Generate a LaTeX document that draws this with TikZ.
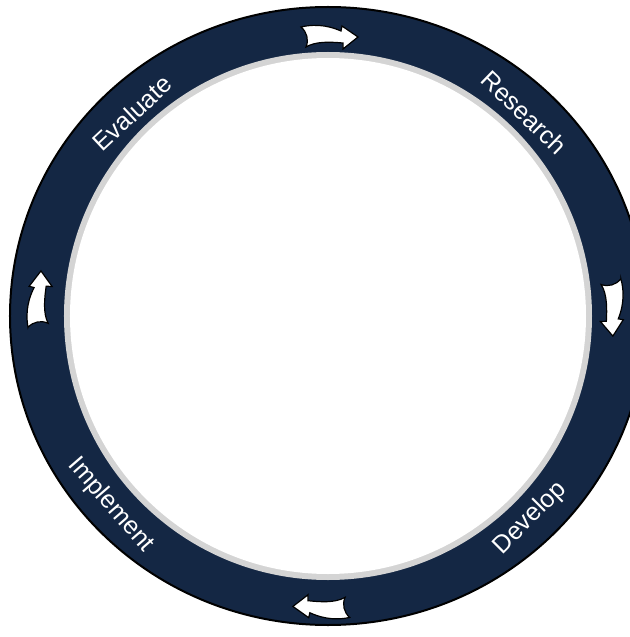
\documentclass[tikz,border=0pt]{standalone}
\usepackage{fontspec}
\setmainfont{Liberation Sans}
\usepackage{tikz}
\usepackage{xcolor}
\definecolor{ringblue}{RGB}{20,39,68}
\definecolor{ringgray}{RGB}{212,212,212}
\tikzset{stage/.style={text=white, inner sep=0pt, font=\fontsize{12.5}{15}\selectfont},
cyclearrow/.pic={
 \fill[white, draw=black, line width=0.6pt] (-27,10) .. controls (-10,14) and (4,10) .. (13,6) -- (14,11) -- (30,0) -- (15,-12) -- (15,-6)
   .. controls (3,-5) and (-12,-4) .. (-22,-10) .. controls (-19,-3) and (-21,5) .. cycle;
 }
}

\begin{document}
\begin{tikzpicture}[x=0.5pt, y=0.5pt]
\useasboundingbox (-328,-321) rectangle (301,316);
 % the ring with its gray inner edge
 \fill[ringblue, draw=black, line width=1pt] (0,0) ellipse [x radius=318, y radius=309];
 \fill[ringgray] (0,0) circle (264);
 \fill[white] (0,0) circle (258);
 % the four stages
 \node[stage, rotate=-44] (research) at (46:283) {Research};
 \node[stage, rotate=45] (develop) at (-45:286) {Develop};
 \node[stage, rotate=-49] (implement) at (221:288) {Implement};
 \node[stage, rotate=43] (evaluate) at (134:282) {Evaluate};
 % clockwise arrows between them
 \foreach \a/\r in {90/279, 2/284, 177/289, 269/291}
  \pic[rotate=\a-90] at (\a:\r) {cyclearrow};
\end{tikzpicture}
\end{document}
